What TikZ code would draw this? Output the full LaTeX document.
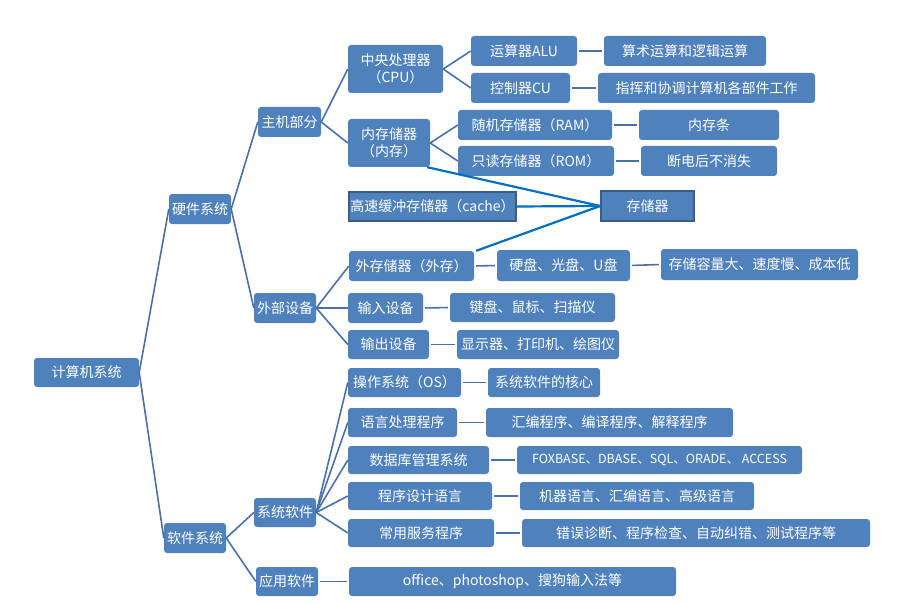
\documentclass[tikz,border=0pt]{standalone}
\usepackage{fontspec}
\setmainfont{Noto Sans CJK SC}
\usetikzlibrary{positioning}
\definecolor{boxfill}{HTML}{4F81BD}
\definecolor{boxline}{HTML}{385D8A}
\definecolor{linkc}{HTML}{4A70A8}
\definecolor{storec}{HTML}{0070C0}

\begin{document}
\begin{tikzpicture}[
x=1pt,y=-1pt,
box/.style={fill=boxfill,rounded corners=3pt,align=center,text=white,inner sep=1pt,
font=\fontsize{14}{16.5}\selectfont},
sqbox/.style={box,rounded corners=0pt,draw=boxline,line width=1.6pt},
link/.style={draw=linkc,line width=1.6pt},
dlink/.style={link,shorten >=2pt,shorten <=2pt},
mline/.style={draw=storec,line width=2.2pt}
]
\useasboundingbox (0,0) rectangle (904,604);
% level 1 and 2
\node[box,minimum width=105pt,minimum height=29pt] (root) at (86.5,372.5) {计算机系统};
\node[box,minimum width=62pt,minimum height=30pt] (hw) at (200,209) {硬件系统};
\node[box,minimum width=62pt,minimum height=30pt] (sw) at (195,538) {软件系统};
\node[box,minimum width=63pt,minimum height=30pt] (host) at (289.5,122) {主机部分};
\node[box,minimum width=62pt,minimum height=30pt] (peri) at (285,308) {外部设备};
\node[box,minimum width=62pt,minimum height=29pt] (syssw) at (285,512.5) {系统软件};
\node[box,minimum width=62pt,minimum height=29pt] (appsw) at (287,581.5) {应用软件};
% host
\node[box,minimum width=95pt,minimum height=48pt] (cpu) at (395.5,69) {中央处理器\\（CPU）};
\node[box,minimum width=82pt,minimum height=48pt] (mem) at (389,143) {内存储器\\（内存）};
\node[box,minimum width=106pt,minimum height=30pt] (alu) at (524,51) {运算器ALU};
\node[box,minimum width=162pt,minimum height=30pt] (alud) at (685,51) {算术运算和逻辑运算};
\node[box,minimum width=99pt,minimum height=30pt] (cu) at (520.5,88) {控制器CU};
\node[box,minimum width=217pt,minimum height=30pt] (cud) at (706.5,88) {指挥和协调计算机各部件工作};
\node[box,minimum width=154pt,minimum height=30pt] (ram) at (535,125) {随机存储器（RAM）};
\node[box,minimum width=140pt,minimum height=30pt] (ramd) at (709,125) {内存条};
\node[box,minimum width=156pt,minimum height=30pt] (rom) at (536,161) {只读存储器（ROM）};
\node[box,minimum width=136pt,minimum height=30pt] (romd) at (709,161) {断电后不消失};
\node[sqbox,minimum width=167pt,minimum height=29pt] (cache) at (432.5,206.5) {高速缓冲存储器（cache）};
\node[sqbox,minimum width=93pt,minimum height=30pt] (store) at (647.5,206) {存储器};
% peripherals
\node[box,minimum width=125pt,minimum height=30pt] (ext) at (411.5,266) {外存储器（外存）};
\node[box,minimum width=133pt,minimum height=31pt] (extm) at (563.5,265.5) {硬盘、光盘、U盘};
\node[box,minimum width=197pt,minimum height=31pt] (extd) at (759.5,264.5) {存储容量大、速度慢、成本低};
\node[box,minimum width=75pt,minimum height=30pt] (inp) at (385.5,308) {输入设备};
\node[box,minimum width=165pt,minimum height=29pt] (inpd) at (532.5,307.5) {键盘、鼠标、扫描仪};
\node[box,minimum width=81pt,minimum height=29pt] (outp) at (388.5,344.5) {输出设备};
\node[box,minimum width=162pt,minimum height=29pt] (outpd) at (538,344.5) {显示器、打印机、绘图仪};
% system software
\node[box,minimum width=113pt,minimum height=29pt] (os) at (404.5,382.5) {操作系统（OS）};
\node[box,minimum width=112pt,minimum height=29pt] (osd) at (544,382.5) {系统软件的核心};
\node[box,minimum width=109pt,minimum height=29pt] (lang) at (402.5,422.5) {语言处理程序};
\node[box,minimum width=247pt,minimum height=29pt] (langd) at (609.5,422.5) {汇编程序、编译程序、解释程序};
\node[box,minimum width=141pt,minimum height=28pt] (db) at (418.5,460) {数据库管理系统};
\node[box,minimum width=285pt,minimum height=28pt,font=\fontsize{12.5}{14}\selectfont] (dbd) at (659.5,460) {FOXBASE、DBASE、SQL、ORADE、\ ACCESS};
\node[box,minimum width=144pt,minimum height=28pt] (prog) at (420,496) {程序设计语言};
\node[box,minimum width=234pt,minimum height=28pt] (progd) at (637,496) {机器语言、汇编语言、高级语言};
\node[box,minimum width=146pt,minimum height=28pt] (util) at (421,533) {常用服务程序};
\node[box,minimum width=348pt,minimum height=28pt] (utild) at (696,533) {错误诊断、程序检查、自动纠错、测试程序等};
\node[box,minimum width=327pt,minimum height=29pt] (office) at (512.5,581.5) {office、photoshop、搜狗输入法等};
% tree links
\draw[link] (root.east)--(hw.west);
\draw[link] (root.east)--(sw.west);
\draw[link] (hw.east)--(host.west);
\draw[link] (hw.east)--(peri.west);
\draw[link] (sw.east)--(syssw.west);
\draw[link] (sw.east)--(appsw.west);
\draw[link] (host.east)--(cpu.west);
\draw[link] (host.east)--(mem.west);
\draw[link] (cpu.east)--(alu.west);
\draw[link] (cpu.east)--(cu.west);
\draw[link] (mem.east)--(ram.west);
\draw[link] (mem.east)--(rom.west);
\draw[link] (peri.east)--(ext.west);
\draw[link] (peri.east)--(inp.west);
\draw[link] (peri.east)--(outp.west);
\draw[link] (syssw.east)--(os.west);
\draw[link] (syssw.east)--(lang.west);
\draw[link] (syssw.east)--(db.west);
\draw[link] (syssw.east)--(prog.west);
\draw[link] (syssw.east)--(util.west);
\draw[dlink] (appsw.east)--(office.west);
% short dashes
\draw[dlink] (alu.east)--(alud.west);
\draw[dlink] (cu.east)--(cud.west);
\draw[dlink] (ram.east)--(ramd.west);
\draw[dlink] (rom.east)--(romd.west);
\draw[dlink] (ext.east)--(extm.west);
\draw[dlink] (extm.east)--(extd.west);
\draw[dlink] (inp.east)--(inpd.west);
\draw[dlink] (outp.east)--(outpd.west);
\draw[dlink] (os.east)--(osd.west);
\draw[dlink] (lang.east)--(langd.west);
\draw[dlink] (db.east)--(dbd.west);
\draw[dlink] (prog.east)--(progd.west);
\draw[dlink] (util.east)--(utild.west);
% storage
\draw[mline] ([xshift=-3pt]mem.south east)--(store.west);
\draw[mline] (cache.east)--(store.west);
\draw[mline] ([xshift=2pt]ext.north east)--(store.west);
\end{tikzpicture}
\end{document}
